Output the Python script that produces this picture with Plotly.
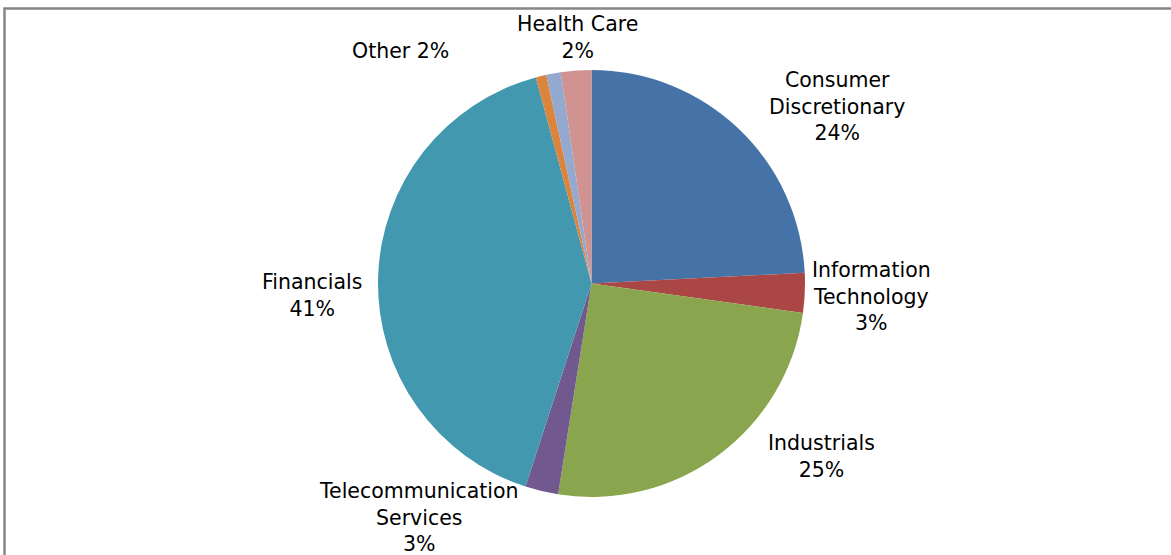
import plotly.graph_objects as go

# Data (clockwise from 12 o'clock)
sectors = ["Consumer Discretionary", "Information Technology", "Industrials",
           "Telecommunication Services", "Financials", "Materials", "Other", "Health Care"]
weights = [24.2, 3.0, 25.3, 2.5, 40.8, 0.8, 1.1, 2.3]
colors = ["#4572A7", "#AA4643", "#89A54E", "#71588F", "#4198AF", "#DB843D", "#93A9CF", "#D19392"]

# Label texts as shown on the chart
label_texts = ["Consumer<br>Discretionary<br>24%", "Information<br>Technology<br>3%",
               "Industrials<br>25%", "Telecommunication<br>Services<br>3%",
               "Financials<br>41%", None, "Other 2%", "Health Care<br>2%"]

W, H = 1171, 555
# label centres in pixels (layout)
label_pos = [(837, 106), (871, 296), (821, 456), (419, 517), (312, 295), None, (400, 51), (577, 38)]

fig = go.Figure(go.Pie(
    labels=sectors, values=weights, sort=False, direction="clockwise", rotation=0,
    marker=dict(colors=colors, line=dict(width=0)),
    textinfo="none", hoverinfo="none", showlegend=False,
    domain=dict(x=[378 / W, 805 / W], y=[1 - 497 / H, 1 - 70 / H]),
))

for txt, pos in zip(label_texts, label_pos):
    if txt is None:
        continue
    fig.add_annotation(text=txt, x=pos[0] / W, y=1 - pos[1] / H, xref="paper", yref="paper",
                       xanchor="center", yanchor="middle", showarrow=False, align="center",
                       font=dict(family="DejaVu Sans", size=20.5, color="#000"))

fig.add_shape(type="rect", xref="paper", yref="paper", x0=4.5 / W, y0=-0.05, x1=1.05, y1=1 - 8.5 / H,
              line=dict(color="#868686", width=2.5), fillcolor="rgba(0,0,0,0)")

fig.update_layout(width=W, height=H, margin=dict(l=0, r=0, t=0, b=0),
                  paper_bgcolor="white", plot_bgcolor="white")
fig.write_html("out.html", config={"displayModeBar": False},
               post_script="document.body.style.margin='0';document.body.style.overflow='hidden';")
